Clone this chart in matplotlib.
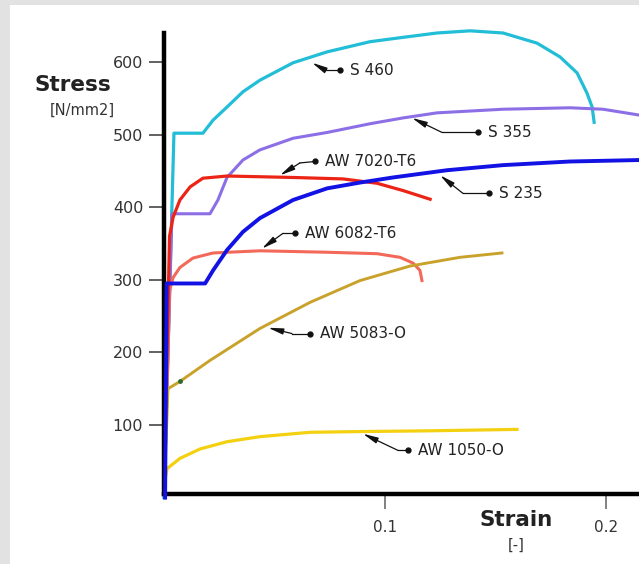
import matplotlib
matplotlib.use("Agg")
import matplotlib.pyplot as plt
from matplotlib.patches import Rectangle

# strain [-] / stress [N/mm2]
s460_x = [0.0, 0.0045, 0.0050, 0.0176, 0.0222, 0.0285, 0.0357, 0.0434, 0.0584, 0.0738,
          0.0932, 0.1081, 0.1235, 0.1385, 0.1534, 0.1688, 0.1792, 0.1869, 0.1914, 0.1937,
          0.1946]
s460_y = [0, 502, 502, 502, 520, 538, 559, 575, 599, 614, 628, 634, 640, 643, 640, 626,
          607, 585, 557, 538, 517]

s355_x = [0.0, 0.0036, 0.0208, 0.0244, 0.0285, 0.0357, 0.0434, 0.0584, 0.0738, 0.0932,
          0.1081, 0.1235, 0.1534, 0.1837, 0.1986, 0.2149]
s355_y = [0, 391, 391, 410, 441, 465, 479, 495, 503, 515, 523, 530, 535, 537, 535, 527]

aw7020_x = [0.0, 0.0025, 0.0041, 0.0072, 0.0118, 0.0176, 0.0285, 0.0584, 0.0810, 0.0964,
            0.1081, 0.1204]
aw7020_y = [0, 360, 386, 410, 428, 440, 443, 441, 439, 433, 423, 411]

s235_x = [0.0005, 0.0012, 0.0036, 0.0186, 0.0222, 0.0285, 0.0357, 0.0434, 0.0584, 0.0738,
          0.0887, 0.1036, 0.1281, 0.1534, 0.1837, 0.2149]
s235_y = [0, 295, 295, 295, 313, 341, 366, 385, 410, 426, 434, 441, 451, 458, 463, 465]

aw6082_x = [0.0, 0.0025, 0.0041, 0.0072, 0.0131, 0.0222, 0.0434, 0.0738, 0.0964, 0.1068,
            0.1127, 0.1158, 0.1167]
aw6082_y = [0, 285, 303, 317, 330, 337, 340, 338, 336, 331, 323, 313, 299]

aw5083_x = [0.0, 0.0018, 0.0072, 0.0208, 0.0434, 0.0661, 0.0887, 0.1113, 0.1339, 0.1529]
aw5083_y = [0, 150, 160, 189, 233, 269, 299, 319, 331, 337]

aw1050_x = [0.0008, 0.0014, 0.0072, 0.0163, 0.0285, 0.0434, 0.0661, 0.0887, 0.1190, 0.1597]
aw1050_y = [30, 40, 54, 67, 77, 84, 90, 91, 92, 94]

# labels: text, arrow tip on curve, bend, dot
labels = ["S 460", "S 355", "AW 7020-T6", "S 235", "AW 6082-T6", "AW 5083-O", "AW 1050-O"]
tips = [(0.0670, 599), (0.1122, 523), (0.0525, 444), (0.1249, 444), (0.0443, 343),
        (0.0471, 234), (0.0900, 88)]
bends = [(0.0729, 589), (0.1258, 503), (0.0615, 461), (0.1353, 419), (0.0538, 364),
         (0.0579, 226), (0.1059, 65)]
dots = [(0.0796, 589), (0.1421, 503), (0.0683, 463), (0.1471, 419), (0.0593, 364),
        (0.0661, 226), (0.1104, 65)]

yticks = [100, 200, 300, 400, 500, 600]
xticks = [0.1, 0.2]

W, H = 639, 564
fig = plt.figure(figsize=(W/100, H/100), dpi=100)
fig.patch.set_facecolor("#e2e2e2")
fig.patches.append(Rectangle((10/W, 0), 1, 1 - 5/H, transform=fig.transFigure,
                             facecolor="white", edgecolor="none", zorder=-10))

ax = fig.add_axes([164/W, 1 - 494/H, (W - 164)/W + 0.01, (494 - 33)/H])
ax.patch.set_alpha(0)

ax.plot(s460_x, s460_y, color="#22bdd7", lw=2.3, zorder=2, clip_on=False)
ax.plot(s355_x, s355_y, color="#8c6fe6", lw=2.2, zorder=2)
ax.plot(aw7020_x, aw7020_y, color="#ec2416", lw=2.3, zorder=2.1)
ax.plot(aw6082_x, aw6082_y, color="#f2695a", lw=2.2, zorder=2)
ax.plot(aw5083_x, aw5083_y, color="#c9a22c", lw=2.1, zorder=2)
ax.plot(aw1050_x, aw1050_y, color="#f3d010", lw=2.3, zorder=2)
ax.plot(s235_x, s235_y, color="#1212e4", lw=2.8, zorder=3, clip_on=False)
ax.plot([0.0072], [160], "o", color="#2e6b2e", ms=2.5, zorder=3)

for t, tip, bend, dot in zip(labels, tips, bends, dots):
    ax.plot([bend[0], dot[0]], [bend[1], dot[1]], color="#111111", lw=0.9, zorder=4)
    ax.plot([dot[0]], [dot[1]], "o", color="#111111", ms=3.5, zorder=4)
    ax.annotate("", xy=tip, xytext=bend,
                arrowprops=dict(arrowstyle="-|>,head_length=0.9,head_width=0.18",
                                color="#111111", lw=0.9, mutation_scale=10,
                                shrinkA=0, shrinkB=0), zorder=4)
    ax.text(dot[0] + 0.0045, dot[1], t, fontsize=11, color="#222222",
            ha="left", va="center", zorder=5)

ax.set_xlim(0, 0.2149 + 0.01 * W / 2210)
ax.set_ylim(5, 640)
ax.set_yticks(yticks)
ax.set_xticks(xticks)
ax.set_xticklabels(["0.1", "0.2"])
ax.tick_params(axis="y", direction="out", length=11, width=1.3, color="#555555",
               labelsize=11.5, labelcolor="#333333", pad=4)
ax.tick_params(axis="x", direction="out", length=11, width=1.3, color="#777777",
               labelsize=11, labelcolor="#333333", pad=8)
for side in ["top", "right"]:
    ax.spines[side].set_visible(False)
for side in ["left", "bottom"]:
    ax.spines[side].set_linewidth(3.2)
    ax.spines[side].set_color("black")
    ax.spines[side].set_zorder(2.5)

fig.text(73/W, 1 - 85/H, "Stress", fontsize=15.5, fontweight="bold", color="#222222",
         ha="center", va="center")
fig.text(82/W, 1 - 110/H, "[N/mm2]", fontsize=10.5, color="#333333", ha="center", va="center")
fig.text(516/W, 1 - 520/H, "Strain", fontsize=15.5, fontweight="bold", color="#222222",
         ha="center", va="center")
fig.text(516/W, 1 - 545/H, "[-]", fontsize=10.5, color="#333333", ha="center", va="center")

fig.savefig("out.png", dpi=100, facecolor=fig.get_facecolor())
